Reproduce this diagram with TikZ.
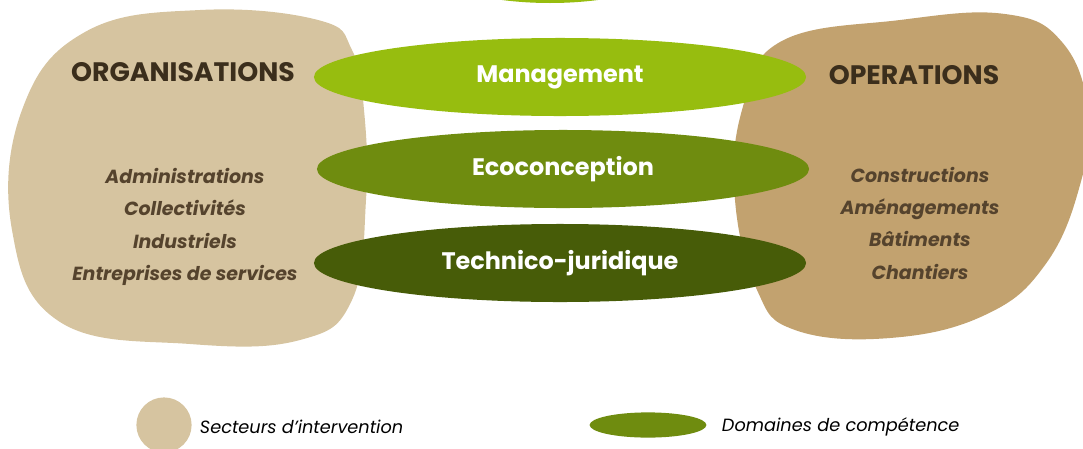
\documentclass[tikz,border=0pt]{standalone}
\usepackage{fontspec}
\setmainfont{Poppins}
\usetikzlibrary{shapes.geometric}

\definecolor{sectorA}{HTML}{D6C4A0}
\definecolor{sectorB}{HTML}{C2A26F}
\definecolor{domLight}{HTML}{97BD0F}
\definecolor{domMid}{HTML}{6F8C0F}
\definecolor{domDark}{HTML}{475C08}
\definecolor{titlebrown}{HTML}{3B2E1C}
\definecolor{itembrown}{HTML}{55432D}

\begin{document}
\begin{tikzpicture}[x=0.025cm,y=-0.025cm,
  domainbox/.style={ellipse, minimum width=12.3cm, minimum height=1.95cm, inner sep=0pt,
    text=white, font=\fontsize{17}{20}\selectfont\bfseries},
  sectortitle/.style={text=titlebrown, font=\fontsize{19}{22}\selectfont\bfseries},
  sectoritems/.style={text=itembrown, align=center,
    font=\fontsize{13.5}{23}\selectfont\bfseries\itshape},
  legendtext/.style={anchor=west, font=\fontsize{12.6}{15}\selectfont\itshape}]
  \useasboundingbox (0,0) rectangle (1083,448);

  % top sliver
  \begin{scope}
    \clip (0,0) rectangle (1083,448);
    \fill[domLight] (550,-40) ellipse (130 and 43);
  \end{scope}

  % sectors
  \fill[sectorA] plot[smooth cycle, tension=0.7] coordinates
    {(85,32) (200,10) (318,20) (352,50) (364,110) (366,200) (352,300) (300,340) (190,344) (60,322) (12,230) (22,110)};
  \fill[sectorB] plot[smooth cycle, tension=0.7] coordinates
    {(780,42) (900,20) (1005,14) (1062,42) (1088,110) (1080,185) (1045,265) (985,315) (890,338) (795,330) (757,290) (735,200) (742,110)};

  \node[sectortitle] (org) at (183,72) {ORGANISATIONS};
  \node[sectortitle] (ope) at (914,75) {OPERATIONS};
  \node[sectoritems] (orglist) at (185,227)
    {Administrations\\Collectivités\\Industriels\\Entreprises de services};
  \node[sectoritems] (opelist) at (920,223)
    {Constructions\\Aménagements\\Bâtiments\\Chantiers};

  % domains
  \node[domainbox, fill=domLight] (mgmt) at (560,77) {Management};
  \node[domainbox, fill=domMid] (eco) at (563,169) {Ecoconception};
  \node[domainbox, fill=domDark] (tech) at (560,263) {Technico-juridique};

  % legend
  \node[circle, fill=sectorA, minimum size=1.38cm, inner sep=0pt] (legsec) at (164,425) {};
  \node[legendtext] (legsectxt) at (195,427) {Secteurs d’intervention};
  \node[ellipse, fill=domMid, minimum width=2.92cm, minimum height=0.63cm, inner sep=0pt] (legdom) at (648,425) {};
  \node[legendtext] (legdomtxt) at (717,427) {Domaines de compétence};
\end{tikzpicture}
\end{document}
